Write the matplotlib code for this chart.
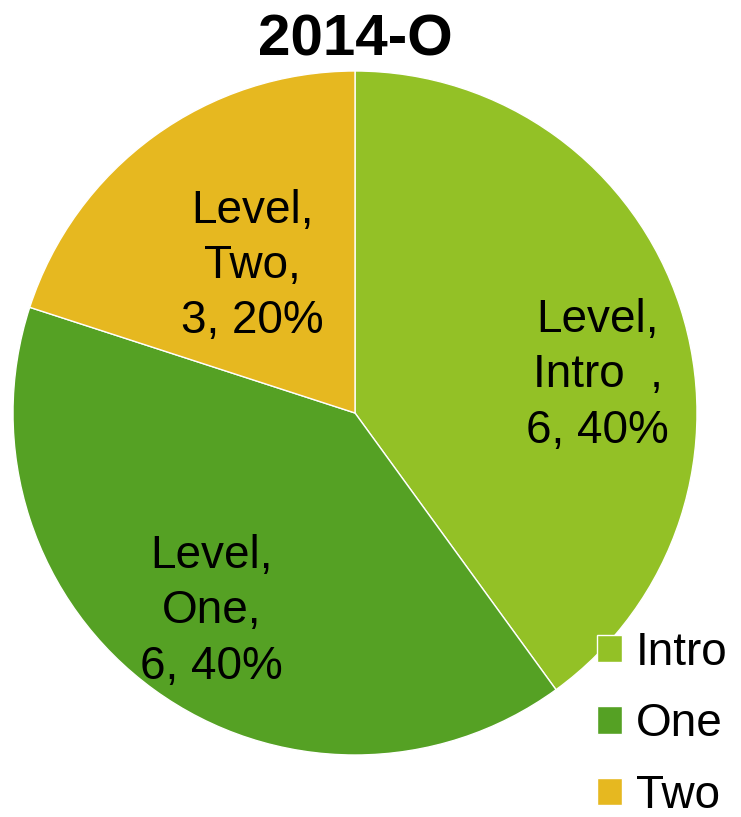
import matplotlib
matplotlib.use('Agg')
import matplotlib.pyplot as plt

# Data
categories = ['Intro', 'One', 'Two']
counts = [6, 6, 3]
colors = ['#93C126', '#55A124', '#E6B820']
title = '2014-O'

plt.rcParams['font.family'] = ['Liberation Sans', 'DejaVu Sans']

fig = plt.figure(figsize=(7.41, 8.17), dpi=100)
ax = fig.add_axes([0, 0, 1, 1])

wedges, _ = ax.pie(counts, colors=colors, startangle=90, counterclock=False,
                   wedgeprops=dict(edgecolor='white', linewidth=1))

# Data labels: "Level, <cat>, <n>, <pct>"
total = sum(counts)
label_pos = [(0.71, 0.11), (-0.42, -0.58), (-0.30, 0.43)]
for cat, n, (x, y) in zip(categories, counts, label_pos):
    name = cat + '  ' if cat == 'Intro' else cat
    txt = f'Level,\n{name},\n{n}, {round(100 * n / total)}%'
    ax.text(x, y, txt, ha='center', va='center', fontsize=33,
            linespacing=1.33)

ax.text(0, 1.09, title, ha='center', va='center', fontsize=42,
        fontweight='bold')

ax.set_xlim(-355 / 342, (741 - 355) / 342)
ax.set_ylim(-(817 - 413) / 342, 413 / 342)
ax.set_aspect('auto')
ax.axis('off')

leg = fig.legend(wedges, categories, loc='lower left',
                 bbox_to_anchor=(0.762, -0.040), frameon=False,
                 fontsize=33, handlelength=0.55, handleheight=0.55,
                 handletextpad=0.3, labelspacing=0.6, borderpad=0.2)

fig.savefig('out.png', dpi=100)
